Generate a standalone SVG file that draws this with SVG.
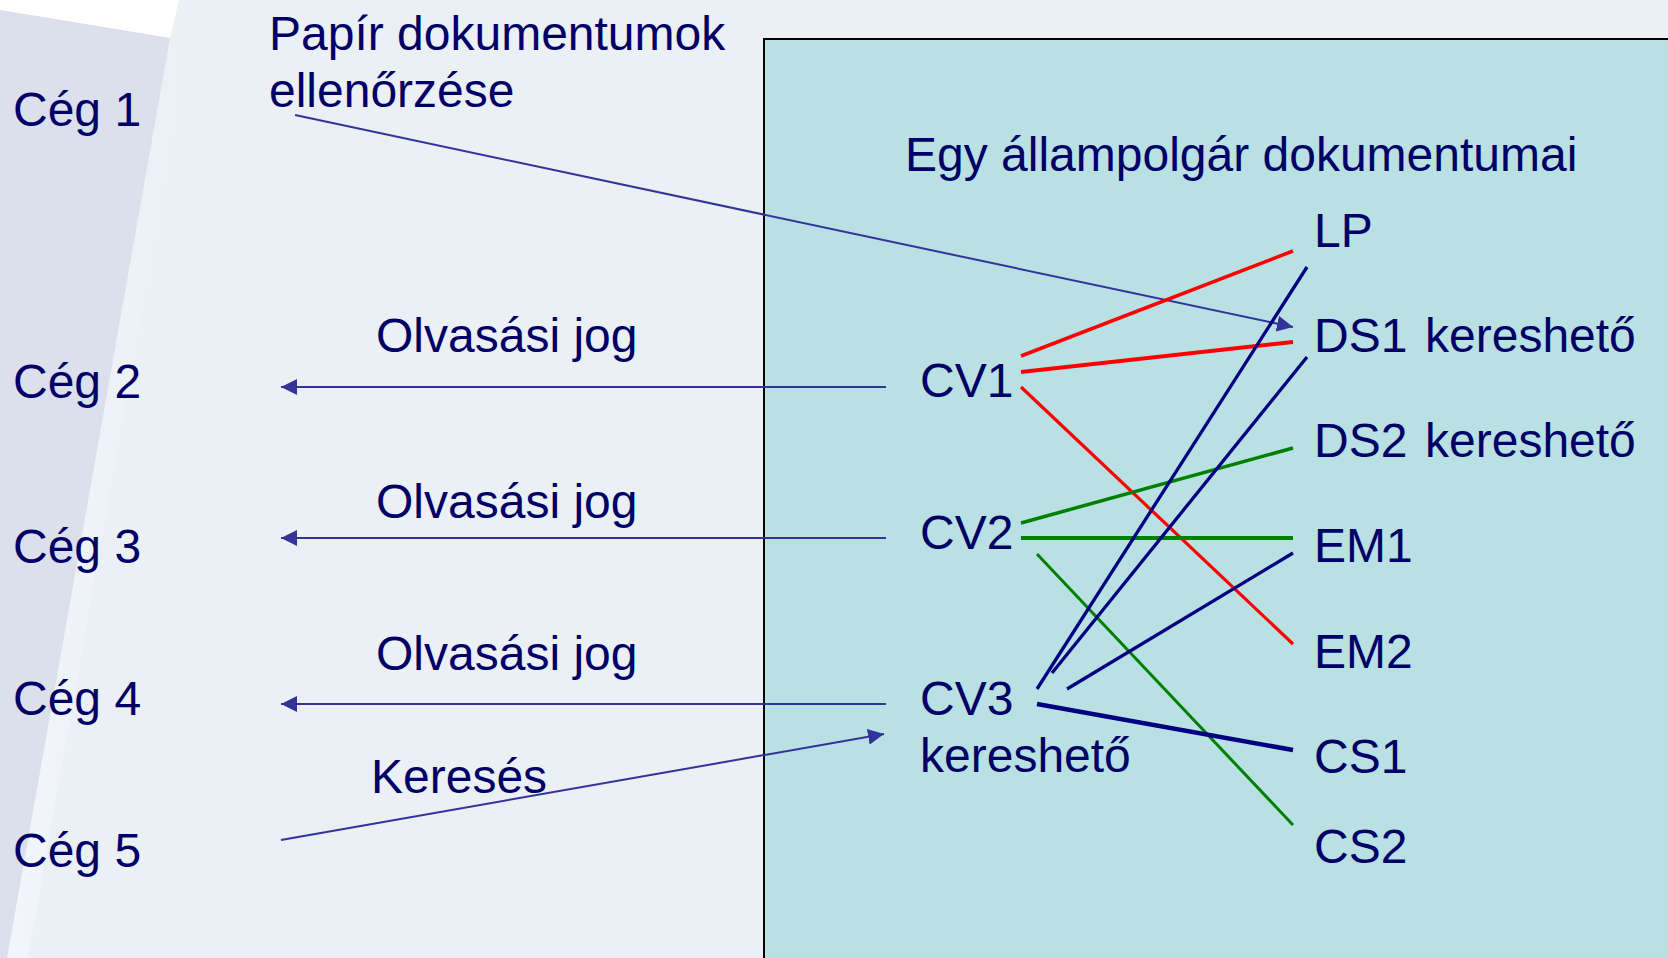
<svg xmlns="http://www.w3.org/2000/svg" width="1668" height="958" viewBox="0 0 1668 958">
<style>
text{font-family:"Liberation Sans",Arial,sans-serif;font-size:48px;fill:#000066}
.arr{stroke:#333399;stroke-width:2;fill:none}
.red{stroke:#FF0000;fill:none}
.grn{stroke:#008000;fill:none}
.nvy{stroke:#000080;fill:none}
</style>
<defs>
<marker id="ah" viewBox="0 0 16 16" refX="16" refY="8" markerWidth="16" markerHeight="16" markerUnits="userSpaceOnUse" orient="auto">
<path d="M0,0 L16,8 L0,16 Z" fill="#333399"/>
</marker>
<linearGradient id="edge" x1="0" y1="0" x2="1" y2="0">
<stop offset="0" stop-color="#F2F5FA"/>
<stop offset="1" stop-color="#EAF0F4"/>
</linearGradient>
</defs>
<g id="background">
<rect x="0" y="0" width="1668" height="958" fill="#EAF0F4"/>
<polygon points="0,0 179,0 170,38 0,10" fill="#FFFFFF"/>
<polygon points="170,38 190,38 28,958 7,958" fill="url(#edge)"/>
<polygon points="0,10 170,38 7,958 0,958" fill="#DCE0EC"/>
</g>
<g id="citizen-box">
<rect x="764" y="39" width="920" height="940" fill="#B9E0E3" stroke="#000000" stroke-width="2"/>
</g>
<g id="companies">
<text id="ceg1" x="13" y="126">Cég 1</text>
<text id="ceg2" x="13" y="398">Cég 2</text>
<text id="ceg3" x="13" y="563">Cég 3</text>
<text id="ceg4" x="13" y="715">Cég 4</text>
<text id="ceg5" x="13" y="867">Cég 5</text>
</g>
<g id="labels">
<text x="269" y="50">Papír dokumentumok</text>
<text x="269" y="107">ellenőrzése</text>
<text x="376" y="352">Olvasási jog</text>
<text x="376" y="518">Olvasási jog</text>
<text x="376" y="670">Olvasási jog</text>
<text x="371" y="793">Keresés</text>
<text x="905" y="171">Egy állampolgár dokumentumai</text>
</g>
<g id="documents">
<text id="cv1" x="920" y="397">CV1</text>
<text id="cv2" x="920" y="549">CV2</text>
<g id="cv3"><text x="920" y="715">CV3</text><text x="920" y="772">kereshető</text></g>
<text id="lp" x="1314" y="247">LP</text>
<text id="ds1" x="1314" y="352">DS1<tspan x="1425">kereshető</tspan></text>
<text id="ds2" x="1314" y="457">DS2<tspan x="1425">kereshető</tspan></text>
<text id="em1" x="1314" y="562">EM1</text>
<text id="em2" x="1314" y="668">EM2</text>
<text id="cs1" x="1314" y="773">CS1</text>
<text id="cs2" x="1314" y="863">CS2</text>
</g>
<g id="connectors">
<line class="arr" x1="295" y1="115" x2="1293" y2="327" marker-end="url(#ah)"/>
<line class="arr" x1="886" y1="387" x2="281" y2="387" marker-end="url(#ah)"/>
<line class="arr" x1="886" y1="538" x2="281" y2="538" marker-end="url(#ah)"/>
<line class="arr" x1="886" y1="704" x2="281" y2="704" marker-end="url(#ah)"/>
<line class="arr" x1="281" y1="840" x2="884" y2="734" marker-end="url(#ah)"/>
<line class="red" stroke-width="3.5" x1="1021" y1="356" x2="1293" y2="251"/>
<line class="red" stroke-width="4" x1="1021" y1="372" x2="1293" y2="342"/>
<line class="red" stroke-width="3.2" x1="1021" y1="387" x2="1293" y2="644"/>
<line class="grn" stroke-width="3.5" x1="1021" y1="523" x2="1293" y2="448"/>
<line class="grn" stroke-width="4" x1="1021" y1="538" x2="1293" y2="538"/>
<line class="grn" stroke-width="3" x1="1037" y1="554" x2="1293" y2="825"/>
<line class="nvy" stroke-width="3.3" x1="1037" y1="689" x2="1307" y2="267"/>
<line class="nvy" stroke-width="3.3" x1="1052" y1="673" x2="1307" y2="357"/>
<line class="nvy" stroke-width="3.3" x1="1067" y1="689" x2="1293" y2="553"/>
<line class="nvy" stroke-width="4.5" x1="1037" y1="704" x2="1293" y2="750"/>
</g>
</svg>
